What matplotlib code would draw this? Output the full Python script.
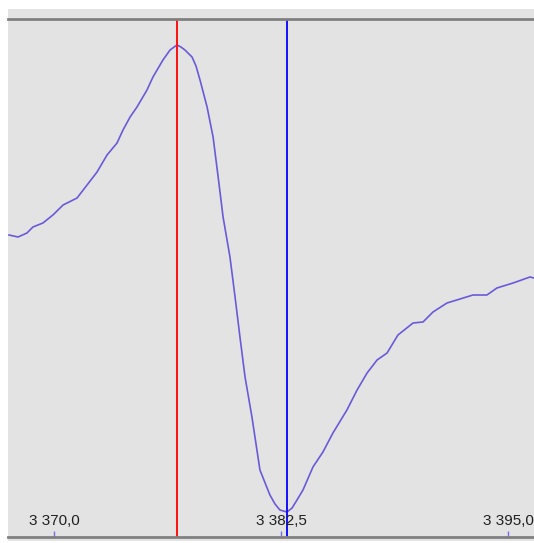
import matplotlib.pyplot as plt
from matplotlib.patches import Rectangle

# magnetic field (G) and derivative signal (a.u.)
field = [3367.52, 3368.02, 3368.51, 3368.84, 3369.39, 3369.94, 3370.50, 3371.27,
         3371.82, 3372.37, 3372.92, 3373.47, 3373.80, 3374.19, 3374.57, 3375.12,
         3375.45, 3376.00, 3376.39, 3376.77, 3376.99, 3377.21, 3377.60, 3377.82,
         3378.04, 3378.43, 3378.76, 3379.06, 3379.31, 3379.69, 3379.97, 3380.24,
         3380.52, 3380.90, 3381.34, 3381.89, 3382.17, 3382.44, 3382.83, 3383.11,
         3383.38, 3383.71, 3384.26, 3384.81, 3385.36, 3386.13, 3386.69, 3387.24,
         3387.79, 3388.34, 3388.94, 3389.77, 3390.32, 3390.87, 3391.64, 3392.36,
         3393.07, 3393.84, 3394.39, 3395.28, 3396.21, 3396.43]
signal = [65, 63, 67, 73, 77, 85, 95, 102,
          115, 128, 145, 157, 170, 183, 193, 210,
          223, 240, 250, 255, 253, 250, 243, 234,
          220, 193, 163, 120, 83, 43, 3, -37,
          -77, -117, -170, -195, -204, -210, -212, -208,
          -200, -190, -167, -152, -133, -110, -90, -73,
          -60, -53, -35, -23, -22, -12, -3, 1,
          5, 5, 12, 17, 23, 22]

marker_max = 3376.77
marker_min = 3382.83
ticks = [3370.0, 3382.5, 3395.0]


def fmt(v):
    s = f"{v:,.1f}"
    return s.replace(",", " ").replace(".", ",")


W, H = 534, 543
fig = plt.figure(figsize=(W / 100, H / 100), dpi=100)
fig.patch.set_facecolor("white")

# grey panel behind the axes
fig.patches.append(Rectangle((8 / W, (H - 541) / H), 1 - 8 / W, (541 - 9) / H,
                             transform=fig.transFigure, facecolor="#e3e3e3",
                             edgecolor="none", zorder=-5))

ax = fig.add_axes([8 / W, (H - 537) / H, 1 - 8 / W, (537 - 19) / H])
ax.set_facecolor("#e3e3e3")
ax.plot(field, signal, color="#6a5ad8", lw=1.2)
ax.axvline(marker_max, color="#ff1010", lw=1.4)
ax.axvline(marker_min, color="#1010ff", lw=1.4)

ax.set_xlim(3367.467, 3396.432)
ax.set_ylim(-237, 281)

for side in ["left", "right"]:
    ax.spines[side].set_visible(False)
for side in ["top", "bottom"]:
    ax.spines[side].set_color("#808080")
    ax.spines[side].set_linewidth(2)

ax.set_yticks([])
ax.set_xticks(ticks)
ax.set_xticklabels([])
ax.tick_params(axis="x", direction="in", length=4.3, width=1, color="#7a6ae0")
for t in ticks:
    ax.text(t, 12 / 518, fmt(t), transform=ax.get_xaxis_transform(),
            ha="center", va="baseline", fontsize=11, family="Liberation Sans",
            color="#202020")

fig.savefig("out.png", dpi=100)
